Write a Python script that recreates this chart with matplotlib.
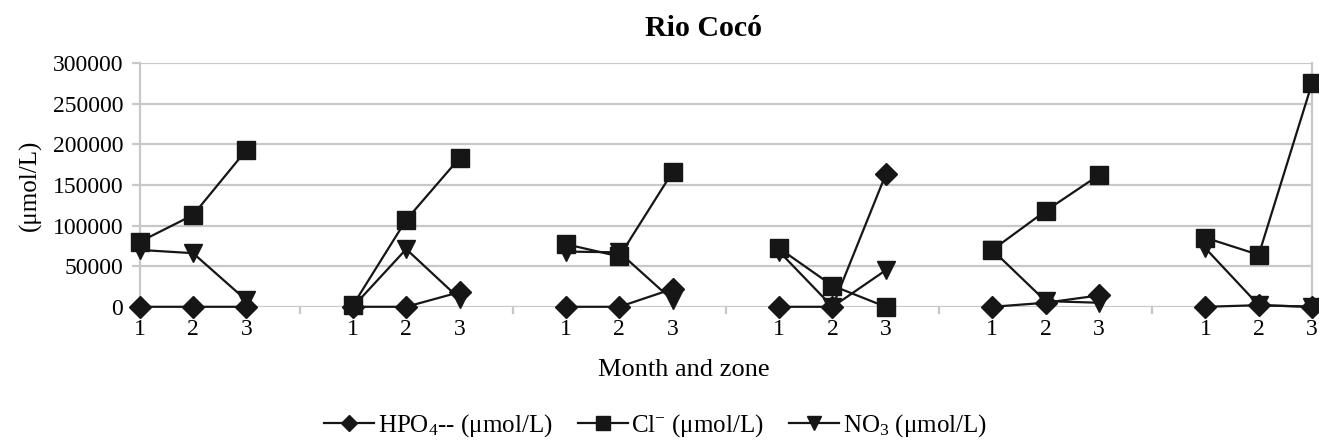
import numpy as np
import matplotlib.pyplot as plt
from matplotlib.lines import Line2D

plt.rcParams['font.family'] = ['Liberation Serif', 'DejaVu Serif']
plt.rcParams['mathtext.fontset'] = 'custom'
plt.rcParams['mathtext.rm'] = 'Liberation Serif'
plt.rcParams['mathtext.it'] = 'Liberation Serif:italic'

# six sampling months, three zones each
zonas = ['1', '2', '3']
n_meses = 6

hpo4 = [0, 0, 0,
        0, 0, 18000,
        0, 0, 22000,
        0, 0, 163000,
        0, 5000, 14000,
        0, 2000, 0]
cl = [80000, 113000, 193000,
      2000, 107000, 183000,
      77000, 62000, 166000,
      72000, 26000, 0,
      70000, 118000, 162000,
      85000, 64000, 275000]
no3 = [70000, 66000, 8000,
       0, 71000, 10000,
       68000, 67000, 8000,
       68000, 0, 45000,
       70000, 7000, 5000,
       72000, 2000, 0]

yticks = [0, 50000, 100000, 150000, 200000, 250000, 300000]

series = [
    (hpo4, 'D', 11, r'HPO$_4$-- (μmol/L)'),
    (cl, 's', 13, r'Cl$^{-}$ (μmol/L)'),
    (no3, 'v', 13, r'NO$_3$ (μmol/L)'),
]

# each month occupies 3 slots plus one empty slot as a separator
def com_lacunas(vals):
    out = []
    for m in range(n_meses):
        out += list(vals[m*3:(m+1)*3])
        if m < n_meses - 1:
            out.append(np.nan)
    return np.array(out, dtype=float)

n_pos = n_meses * 4 - 1
x = np.arange(n_pos)

fig = plt.figure(figsize=(13.19, 4.44), dpi=100)
ax = fig.add_axes([0.106, 0.309, 0.8887, 0.549])

cor = '#161616'
cinza = '#c8c8c8'
for vals, mk, ms, lab in series:
    ax.plot(x, com_lacunas(vals), color=cor, lw=1.6, marker=mk, ms=ms,
            markerfacecolor=cor, markeredgecolor=cor, zorder=3, clip_on=False)

ax.set_xlim(0, n_pos - 1)
ax.set_ylim(0, 300000)
ax.set_yticks(yticks)
ax.set_yticklabels([str(v) for v in yticks], fontsize=17)
ax.yaxis.grid(True, color=cinza, lw=1.6)
ax.set_axisbelow(True)
ax.tick_params(axis='y', length=6, width=1.6, color=cinza, pad=6)

pos_rot = [m*4 + i for m in range(n_meses) for i in range(3)]
ax.set_xticks(pos_rot)
ax.set_xticklabels(zonas * n_meses, fontsize=17)
ax.tick_params(axis='x', length=0, pad=9)
# small separator marks between months
for m in range(n_meses - 1):
    ax.plot([m*4 + 3, m*4 + 3], [0, -0.025], transform=ax.get_xaxis_transform(),
            color=cinza, lw=1.6, clip_on=False)

for s in ['top', 'bottom']:
    ax.spines[s].set_visible(False)
for s in ['left', 'right']:
    ax.spines[s].set_color(cinza)
    ax.spines[s].set_linewidth(1.6)

fig.text(0.533, 0.918, 'Rio Cocó', fontsize=21.5, fontweight='bold',
         ha='center', va='baseline')
fig.text(0.5186, 0.167, 'Month and zone', fontsize=19, ha='center', va='center')
ax.set_ylabel('(μmol/L)', fontsize=18, labelpad=8)

handles = [Line2D([], [], color=cor, lw=1.6, marker=mk, ms=ms * 0.75,
                  markerfacecolor=cor, markeredgecolor=cor, label=lab)
           for vals, mk, ms, lab in series]
fig.legend(handles=handles, loc='center', bbox_to_anchor=(0.497, 0.042),
           ncol=3, frameon=False, fontsize=18, handlelength=2.0,
           handletextpad=0.15, columnspacing=1.0, borderpad=0)

fig.savefig('out.png', dpi=100)
